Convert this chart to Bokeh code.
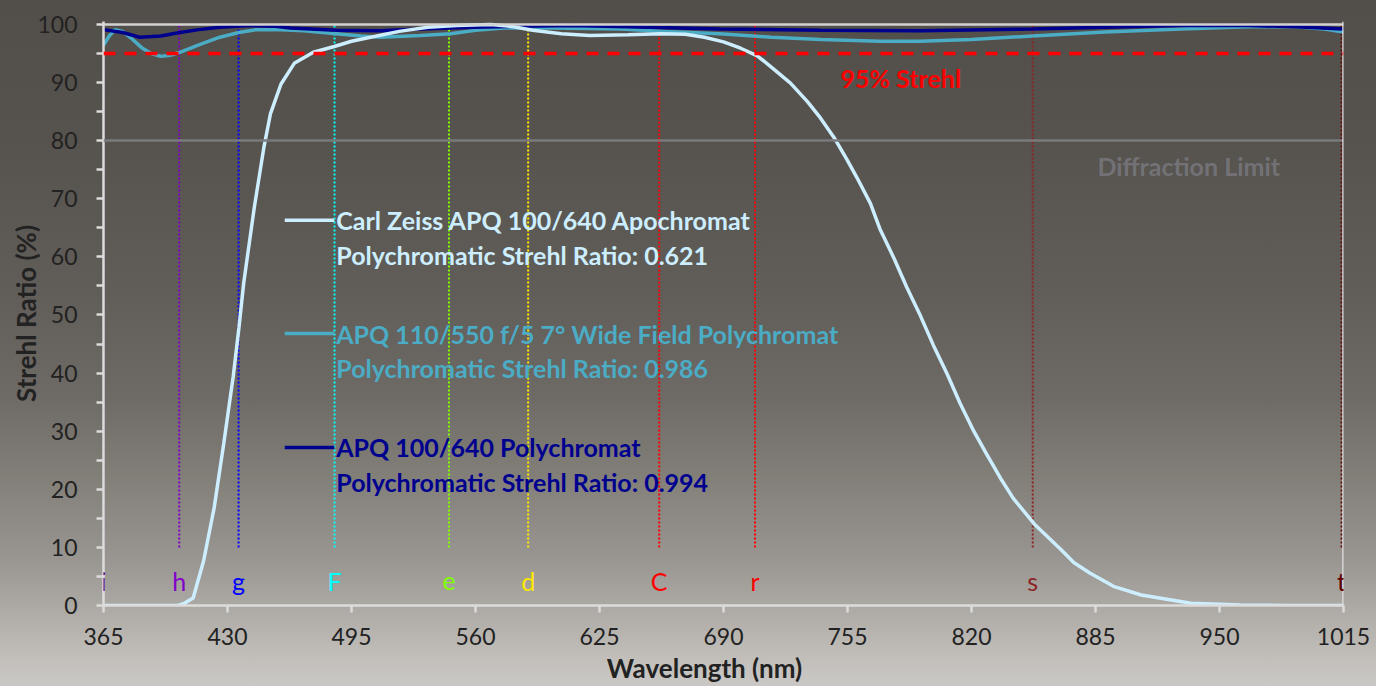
from bokeh.plotting import figure
from bokeh.models import Range1d, FixedTicker, Span, Label
from bokeh.embed import file_html
from bokeh.resources import INLINE

# ---------------- data ----------------
x_ticks = [365, 430, 495, 560, 625, 690, 755, 820, 885, 950, 1015]
y_ticks = [0, 10, 20, 30, 40, 50, 60, 70, 80, 90, 100]
y_minor = [5, 15, 25, 35, 45, 55, 65, 75, 85, 95]

zeiss_wl = [365, 380, 395, 404, 407, 412, 417.5, 423, 428, 433, 436, 438.5, 444, 449, 452.5,
            458, 465, 475, 486, 495, 505, 520, 535, 550, 568, 580, 590, 605, 620, 640,
            657, 670, 680, 690, 699, 707.7, 716, 725.1, 734, 740.8, 748, 754.8, 760, 767, 772,
            779.3, 786, 793.3, 800, 807.3, 814, 821.2, 828, 835.2, 842, 853, 867, 873.6, 882,
            894.4, 909, 935, 961, 985, 1015]
zeiss_sr = [0, 0, 0, 0, 0.3, 1.3, 7.7, 16.8, 27.8, 39.4, 47.8, 55.5, 68.4, 78.7, 84.6,
            89.7, 93.3, 95.2, 96.2, 97.1, 97.8, 98.8, 99.5, 99.8, 100, 99.6, 99.0, 98.4, 98.1, 98.2,
            98.4, 98.3, 97.8, 97.0, 95.9, 94.6, 92.4, 89.9, 86.7, 83.9, 80.5, 76.7, 73.6, 69.2, 64.8,
            59.8, 54.8, 49.8, 44.8, 39.8, 34.8, 30.0, 26.0, 21.9, 18.4, 14.0, 9.6, 7.4, 5.6,
            3.3, 1.8, 0.4, 0.1, 0, 0]

wide_wl = [365, 368, 371, 375, 380, 385, 390, 395, 400, 405, 416, 426, 436, 445, 458,
           470, 487, 500, 510, 531, 547, 560, 575, 600, 636, 660, 688, 715, 741, 772,
           793, 820, 852, 890, 930, 965, 990, 1005, 1015]
wide_sr = [96.4, 98.0, 99.1, 98.8, 97.5, 96.0, 95.0, 94.5, 94.7, 95.2, 96.6, 97.8, 98.6, 99.1, 99.1,
           98.9, 98.4, 98.0, 97.8, 98.1, 98.4, 99.0, 99.4, 99.4, 99.2, 98.8, 98.4, 97.8, 97.4, 97.1,
           97.1, 97.4, 98.0, 98.7, 99.2, 99.6, 99.6, 99.2, 98.7]

poly_wl = [365, 375, 384, 395, 405, 415, 426, 442, 455, 463, 487, 510, 531, 560, 585,
           610, 640, 688, 741, 793, 852, 890, 930, 965, 990, 1015]
poly_sr = [99.1, 98.6, 97.8, 98.0, 98.6, 99.1, 99.5, 99.8, 99.7, 99.4, 99.0, 98.9, 99.2, 99.5, 99.7,
           99.8, 99.6, 99.2, 99.0, 98.9, 99.2, 99.5, 99.8, 99.8, 99.6, 99.2]

fr_labels = ["i", "h", "g", "F", "e", "d", "C", "r", "s", "t"]
fr_wl = [365.0, 404.7, 435.8, 486.1, 546.1, 587.6, 656.3, 706.5, 852.1, 1014.0]
fr_colors = ["#6B006B", "#8000C8", "#0000FF", "#00FFFF", "#80FF00", "#FFE800",
             "#FF0000", "#FF0000", "#8B2525", "#600000"]

series_names = ["Carl Zeiss APQ 100/640 Apochromat",
                "APQ 110/550 f/5 7\u00b0 Wide Field Polychromat",
                "APQ 100/640 Polychromat"]
series_ratios = ["Polychromatic Strehl Ratio: 0.621",
                 "Polychromatic Strehl Ratio: 0.986",
                 "Polychromatic Strehl Ratio: 0.994"]
series_colors = ["#CCEEFF", "#4BACC6", "#00008F"]

strehl_95 = 95
diffraction_limit = 80

# ---------------- layout constants ----------------
FONT = "Lato"
fr_line_bottom = 10
fr_line_top = 100
fr_label_y = 4.3
legend_line_x0 = 460
legend_line_x1 = 486
legend_text_x = 487
legend_y = [66.3, 46.8, 27.2]
legend_dy = 5.9

p = figure(width=1376, height=686, output_backend="svg", toolbar_location=None,
           x_range=Range1d(365, 1015), y_range=Range1d(0, 100.5),
           min_border_left=103, min_border_right=33, min_border_top=21, min_border_bottom=81)
p.border_fill_color = None
p.background_fill_color = None
p.outline_line_color = None
p.styles = {"background": "linear-gradient(to bottom, #524e49 0%, #56524d 20%, #615d58 43%, "
                          "#6e6a65 58%, #83807a 70%, #9a9793 82%, #c2bfbb 96%, #cac8c5 100%)"}
p.xgrid.visible = False
p.ygrid.visible = False

AX = "#dcdcdc"
for ax in (p.xaxis[0], p.yaxis[0]):
    ax.axis_line_color = AX
    ax.axis_line_width = 2.5
    ax.major_tick_line_color = AX
    ax.major_tick_line_width = 2.5
    ax.minor_tick_line_color = AX
    ax.minor_tick_line_width = 2.5
    ax.major_tick_in = 0
    ax.major_tick_out = 7
    ax.minor_tick_in = 0
    ax.major_label_text_font = FONT
    ax.major_label_text_font_size = "23px"
    ax.major_label_text_color = "#222222"
    ax.axis_label_text_font = FONT
    ax.axis_label_text_font_style = "bold"
    ax.axis_label_text_color = "#222222"

p.xaxis.ticker = FixedTicker(ticks=x_ticks)
p.xaxis.minor_tick_out = 0
p.xaxis.major_label_standoff = 15
# the original title sits ~20px left of the frame centre: trailing no-break spaces shift it
p.xaxis.axis_label = "Wavelength (nm)" + "\u00a0" * 6
p.xaxis.axis_label_text_font_size = "26px"
p.xaxis.axis_label_standoff = 4
p.yaxis.ticker = FixedTicker(ticks=y_ticks, minor_ticks=y_minor)
p.yaxis.minor_tick_out = 7
p.yaxis.major_label_standoff = 19
p.yaxis.axis_label = "Strehl Ratio (%)"
p.yaxis.axis_label_text_font_size = "26px"
p.yaxis.axis_label_standoff = -8

# reference lines
p.add_layout(Span(location=100, dimension="width", line_color="#d2d2d2", line_width=2.5))
p.add_layout(Span(location=diffraction_limit, dimension="width", line_color="#7a7a7c", line_width=2.5))
p.add_layout(Span(location=1015, dimension="height", line_color="#e0e0e0", line_width=2.5))

# Fraunhofer lines
p.segment(x0=fr_wl, x1=fr_wl, y0=[fr_line_bottom] * len(fr_wl), y1=[fr_line_top] * len(fr_wl),
          line_color=fr_colors, line_width=2, line_dash="2 2")
for lab, xx, col in zip(fr_labels, fr_wl, fr_colors):
    p.add_layout(Label(x=xx, y=fr_label_y, text=lab, text_color=col, text_font=FONT,
                       text_font_size="25px", text_align="center", text_baseline="middle"))

p.add_layout(Span(location=strehl_95, dimension="width", line_color="#FF0000", line_width=3.5,
                  line_dash="12 9"))

# curves
p.line(wide_wl, wide_sr, line_color=series_colors[1], line_width=3.5)
p.line(poly_wl, poly_sr, line_color=series_colors[2], line_width=3.5)
p.line(zeiss_wl, zeiss_sr, line_color=series_colors[0], line_width=3.5)

# legend
p.segment(x0=[legend_line_x0] * 3, x1=[legend_line_x1] * 3, y0=legend_y, y1=legend_y,
          line_color=series_colors, line_width=3.5)
for name, ratio, col, yy in zip(series_names, series_ratios, series_colors, legend_y):
    p.add_layout(Label(x=legend_text_x, y=yy, text=name, text_color=col, text_font=FONT,
                       text_font_style="bold", text_font_size="25px", text_baseline="middle"))
    p.add_layout(Label(x=legend_text_x, y=yy - legend_dy, text=ratio, text_color=col, text_font=FONT,
                       text_font_style="bold", text_font_size="25px", text_baseline="middle"))

p.add_layout(Label(x=751.3, y=90.7, text="95% Strehl", text_color="#FF0000", text_font=FONT,
                   text_font_style="bold", text_font_size="25px", text_baseline="middle"))
p.add_layout(Label(x=886, y=75.7, text="Diffraction Limit", text_color="#727276", text_font=FONT,
                   text_font_style="bold", text_font_size="25px", text_baseline="middle"))

open("out.html", "w").write(file_html(p, INLINE))
